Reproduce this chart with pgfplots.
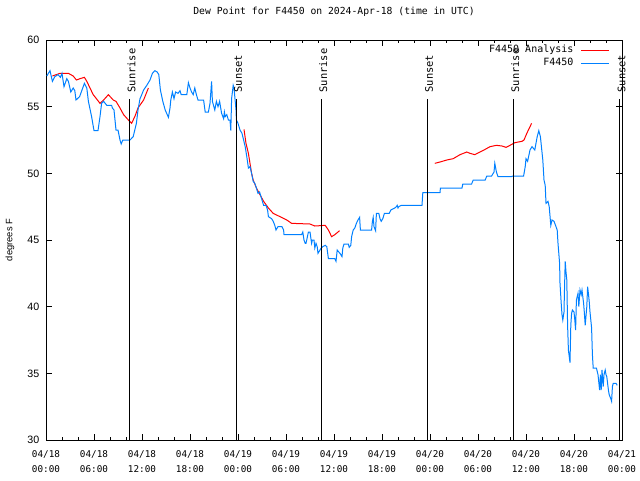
\documentclass[border=0pt]{standalone}
\usepackage{fontspec}
\setmainfont{DejaVu Sans Mono}
\newfontfamily\sansf{Liberation Sans}
\usepackage{pgfplots}
\pgfplotsset{compat=1.18}
\definecolor{obsblue}{RGB}{0,128,255}

\begin{document}
\begin{tikzpicture}
\begin{axis}[
  scale only axis, width=432pt, height=300pt,
  xmin=0, xmax=72, ymin=30, ymax=60,
  clip=false,
  unbounded coords=jump,
  xtick={0,6,...,72},
  xticklabels={04/18\\00:00,04/18\\06:00,04/18\\12:00,04/18\\18:00,04/19\\00:00,04/19\\06:00,04/19\\12:00,04/19\\18:00,04/20\\00:00,04/20\\06:00,04/20\\12:00,04/20\\18:00,04/21\\00:00},
  minor x tick num=2,
  ytick={30,35,...,60},
  tick align=inside,
  major tick length=4.5pt, minor tick length=2.25pt,
  tick style={black, line width=0.6pt},
  axis line style={line width=0.75pt},
  /pgf/number format/assume math mode=true,
  xticklabel style={font=\fontsize{7}{11.25}\selectfont, align=center, anchor=center, yshift=-16pt},
  yticklabel style={font=\sansf\fontsize{8}{9}\selectfont, anchor=east, inner sep=0pt, xshift=-4.9pt},
  ylabel={degrees F},
  ylabel style={font=\sansf\fontsize{7}{8}\selectfont, at={(axis description cs:-0.0625,0.5)}, anchor=center},
  title={Dew Point for F4450 on 2024-Apr-18 (time in UTC)},
  title style={font=\fontsize{7.3}{9}\selectfont, at={(axis description cs:0.5,1)}, anchor=center, yshift=15pt},
  legend plot pos=right,
  legend cell align=right,
  legend image code/.code={\draw[#1] (0pt,0pt) -- (21pt,0pt);},
  legend style={at={(axis description cs:1,1)}, anchor=north east, xshift=-9pt, yshift=-3pt,
    draw=none, fill=none, inner sep=0pt, row sep=0.75pt, column sep=5pt,
    font=\fontsize{7.5}{9}\selectfont,
    nodes={inner sep=0.5pt, text height=6pt, text depth=2pt}},
]
\coordinate (bl) at (rel axis cs:0,0);
\coordinate (tr) at (rel axis cs:1,1);

% analysis (three runs, gaps as nan)
\addplot[red, line width=0.75pt] coordinates {
(0.8,57.3)(1.75,57.5)(2.8,57.5)(3.4,57.3)(3.8,57)(4.25,57.1)(4.8,57.2)(5.1,56.9)(5.5,56.4)(5.9,55.9)
(6.3,55.6)(6.75,55.25)(7.2,55.5)(7.8,55.9)(8.4,55.5)(8.75,55.4)(9.25,54.9)(9.7,54.4)(10.3,54)(10.7,53.75)
(11.1,54.25)(11.5,54.9)(12.2,55.5)(12.8,56.4)
(18,nan)
(24.75,53.3)(25.0,52.25)(25.3,51.5)(25.5,50.75)(25.7,50)(25.9,49.5)(26.3,48.9)(26.75,48.4)(27.2,47.9)
(27.8,47.4)(28.4,47)(29.25,46.75)(30.1,46.5)(30.7,46.25)(33.0,46.2)(33.6,46.05)(34.9,46.1)(35.3,45.75)
(35.7,45.25)(36.1,45.4)(36.7,45.7)
(42,nan)
(48.6,50.75)(49.25,50.85)(50.1,51)(50.9,51.1)(51.75,51.4)(52.6,51.6)(53.0,51.5)(53.6,51.4)(54.25,51.6)
(54.9,51.8)(55.5,52)(56.3,52.1)(57.0,52.05)(57.5,51.95)(58.0,52.1)(58.6,52.3)(59.5,52.4)(59.75,52.5)
(60.1,53)(60.7,53.75)
};
\addlegendentry{F4450 Analysis}

% station observations
\addplot[obsblue, line width=0.75pt] coordinates {
(0.1,57.3)(0.3,57.5)(0.5,57.7)(0.8,56.9)(1.1,57.25)(1.5,57.4)(1.8,57.2)(2.0,57.5)(2.25,56.5)(2.6,57.1)
(2.8,56.9)(3.1,56.1)(3.4,56.4)(3.6,56.2)(3.75,55.5)(4.2,55.75)(4.5,56.25)(4.8,56.75)(5.1,56.4)(5.3,55.4)
(5.7,54.25)(6.0,53.2)(6.5,53.2)(6.75,54.25)(6.95,55.25)(7.2,55.4)(7.6,55.1)(8.2,55.1)(8.3,54.9)(8.5,54.75)
(8.75,53.25)(9.0,53.25)(9.25,52.5)(9.4,52.2)(9.6,52.5)(10.5,52.5)(10.9,52.75)(11.3,53.75)(11.5,54.75)
(11.75,55.6)(11.9,55.8)(12.2,56.25)(12.6,56.6)(13.0,57)(13.3,57.5)(13.6,57.7)(13.9,57.6)(14.1,57.4)
(14.3,56.25)(14.6,55.4)(14.9,54.75)(15.3,54.2)(15.5,54.9)(15.6,55.5)(15.8,56.1)(16.0,55.6)(16.2,56.1)
(16.5,56)(16.75,56.2)(16.9,55.9)(17.6,55.9)(17.8,56.8)(18.0,56.4)(18.2,56.1)(18.4,55.9)(18.6,56.4)
(18.8,55.9)(19.0,55.5)(19.7,55.5)(19.9,54.6)(20.3,54.6)(20.5,55.25)(20.7,56.9)(20.8,55.4)(21.1,54.75)
(21.3,55.4)(21.5,55)(21.7,55.4)(21.95,54.5)(22.2,54.1)(22.3,54.6)(22.4,54.25)(22.6,54.4)(22.8,54)
(23.0,54)(23.1,53.2)(23.2,55.6)(23.4,56.6)(23.5,56.4)(23.75,54.75)(23.8,54)(24.0,53.75)(24.25,53.25)
(24.5,53)(24.7,52.5)(24.9,52)(25.1,51.25)(25.3,50.4)(25.5,50.5)(25.7,50)(25.9,49.4)(26.1,49.25)
(26.3,48.9)(26.5,48.5)(26.7,48.6)(27.0,48)(27.2,47.6)(27.5,47.6)(27.7,47.25)(27.8,46.75)(28.2,46.6)
(28.4,46.4)(28.6,46.1)(28.75,45.75)(29.0,46)(29.5,46)(29.7,45.75)(29.75,45.4)(31.95,45.4)(32.1,45.6)
(32.25,45)(32.4,44.75)(32.5,44.75)(32.8,45.6)(33.0,45.6)(33.2,44.75)(33.3,45)(33.5,45)(33.6,44.4)
(33.75,44.75)(33.9,44.5)(34.0,44)(34.25,44.25)(34.4,44.4)(34.6,44.5)(34.9,44.6)(35.1,44.5)(35.3,43.6)
(36.1,43.6)(36.25,43.4)(36.4,44.25)(36.6,44.1)(36.75,44)(37.0,43.75)(37.1,44.4)(37.25,44.7)(37.8,44.7)
(37.9,44.45)(38.1,44.6)(38.2,45.25)(38.4,45.75)(38.6,45.9)(38.8,46.25)(39.0,46.5)(39.2,46.7)(39.3,45.75)
(40.7,45.75)(40.8,46.4)(40.9,46.7)(41.0,46)(41.2,45.7)(41.3,47)(41.6,47)(41.75,46.6)(41.9,46.4)
(42.1,46.6)(42.3,47)(42.9,47)(43.1,47.25)(43.6,47.4)(43.8,47.5)(43.9,47.6)(44.0,47.4)(44.1,47.5)
(44.4,47.6)(47.0,47.6)(47.1,48.55)(49.25,48.55)(49.3,48.9)(52.0,48.9)(52.1,49.2)(53.2,49.2)(53.4,49.5)
(54.9,49.5)(55.1,49.8)(55.7,49.8)(56.0,50.1)(56.1,50.75)(56.3,50.1)(56.5,49.75)(58.2,49.75)(58.3,49.8)
(59.7,49.8)(59.9,50.5)(60.0,51.1)(60.2,50.9)(60.5,51.75)(60.75,52)(61.1,51.75)(61.2,52.1)(61.4,52.75)
(61.6,53.2)(61.8,52.75)(62.1,51)(62.25,49.5)(62.4,49.1)(62.5,47.75)(62.75,47.9)(62.9,47.5)(63.1,46.1)
(63.25,46.5)(63.5,46.4)(63.75,46)(63.9,45.75)(64.0,44.75)(64.2,43.25)(64.25,41.75)(64.4,40.25)(64.5,39.4)
(64.6,39)(64.75,39.6)(64.8,41)(64.9,43.4)(65.0,42.6)(65.1,42)(65.2,38.6)(65.3,36.75)(65.5,35.8)
(65.6,38.6)(65.7,39.5)(65.8,39.75)(66.0,39.6)(66.1,39)(66.2,38.25)(66.3,40.5)(66.5,41)(66.6,40)
(66.75,41.25)(66.9,40.9)(67.0,41.25)(67.2,40.25)(67.3,39.5)(67.4,38.6)(67.6,40)(67.7,41.5)(67.8,41)
(67.9,40.4)(68.0,39.6)(68.2,38.4)(68.3,36.4)(68.4,35.4)(68.8,35.4)(69.0,34.9)(69.2,33.75)(69.3,34.9)
(69.4,33.75)(69.5,35.25)(69.65,34)(69.75,34.9)(69.9,35.25)(70.0,34.9)(70.1,34.75)(70.3,33.75)(70.4,33.4)
(70.6,33.1)(70.7,32.9)(70.8,34)(70.9,34.25)(71.25,34.25)(71.4,34.1)
};
\addlegendentry{F4450}

% sunrise / sunset markers
\addplot[black, line width=0.75pt, forget plot] coordinates {(10.45,30)(10.45,55.6)};
\addplot[black, line width=0.75pt, forget plot] coordinates {(23.75,30)(23.75,55.6)};
\addplot[black, line width=0.75pt, forget plot] coordinates {(34.4,30)(34.4,55.6)};
\addplot[black, line width=0.75pt, forget plot] coordinates {(47.65,30)(47.65,55.6)};
\addplot[black, line width=0.75pt, forget plot] coordinates {(58.4,30)(58.4,55.6)};
\addplot[black, line width=0.75pt, forget plot] coordinates {(71.7,30)(71.7,55.6)};
\foreach \t/\lab in {10.45/Sunrise,23.75/Sunset,34.4/Sunrise,47.65/Sunset,58.4/Sunrise,71.7/Sunset}{
  \edef\tmp{\noexpand\node[rotate=90, anchor=west, inner sep=0pt, font=\noexpand\fontsize{7.8}{9}\noexpand\selectfont]
    at ([xshift=1.5pt]axis cs:\t,56.05) {\lab};}
  \tmp
}
\end{axis}
\pgfresetboundingbox
\path ([shift={(-34.5pt,-30pt)}]bl) rectangle ([shift={(13.5pt,30pt)}]tr);
\end{tikzpicture}
\end{document}
